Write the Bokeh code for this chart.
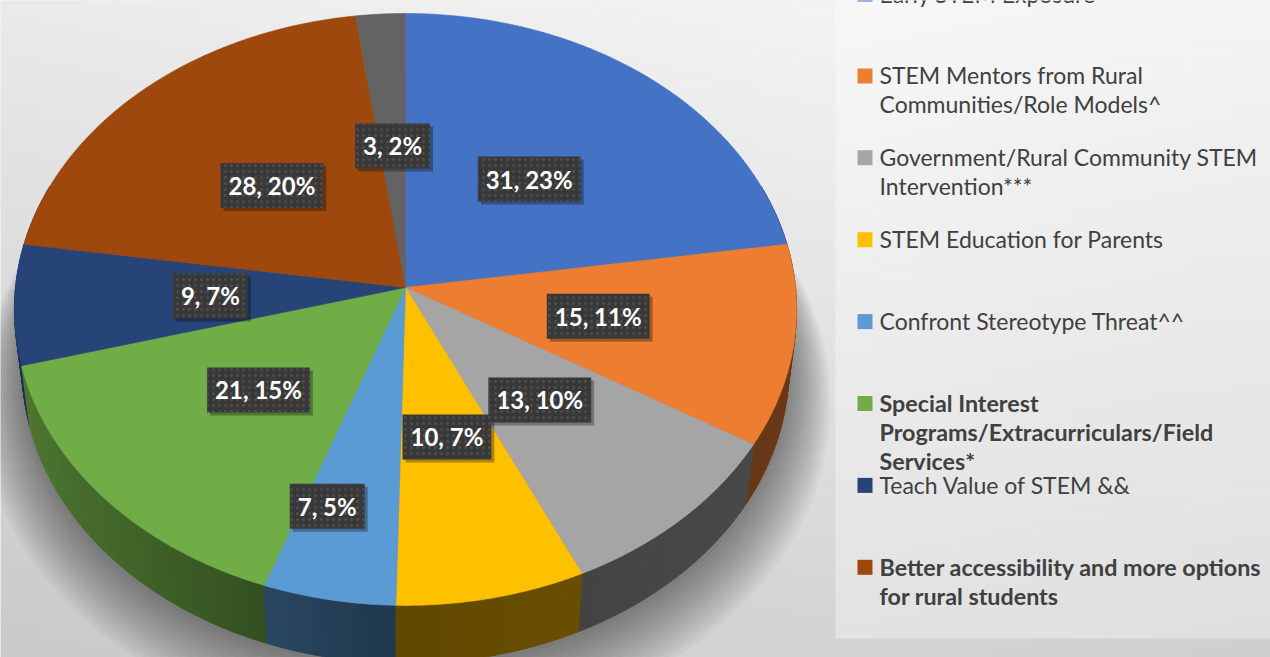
import numpy as np
from bokeh.plotting import figure
from bokeh.models import Range1d
from bokeh.core.properties import value
from bokeh.embed import file_html
from bokeh.resources import INLINE

# ---------------- data ----------------
categories = [
    "Early STEM Exposure",
    "STEM Mentors from Rural Communities/Role Models^",
    "Government/Rural Community  STEM Intervention***",
    "STEM Education for Parents",
    "Confront Stereotype Threat^^",
    "Special Interest Programs/Extracurriculars/Field Services*",
    "Teach Value of STEM &&",
    "Better accessibility and more options for rural students",
    "Other",
]
counts = [31, 15, 13, 10, 7, 21, 9, 28, 3]
percent_labels = ["23%", "11%", "10%", "7%", "5%", "15%", "7%", "20%", "2%"]
colors = ["#4472C4", "#ED7D31", "#A5A5A5", "#FFC000", "#5B9BD5",
          "#70AD47", "#264478", "#9E480E", "#636363"]
legend_bold = [False, False, False, False, False, True, False, True, False]
legend_shown = 8  # last category's legend entry lies below the visible area

# ---------------- layout ----------------
W, H = 1270, 657
CX, CY = 405.0, 287.0        # pie apex on screen
F_OVER_D, DIST = 390.0, 8.85
PHI = np.radians(49.0)
HEIGHT3D = 0.24
FOCAL = F_OVER_D * DIST
label_r = 0.5
label_nudge = {4: (0.75, 0.73)}   # (fraction of slice, radius) for crowded label


def proj(r, th, Y=0.0):
    X = r * np.sin(th)
    Z = r * np.cos(th)
    yc = Y * np.cos(PHI) + Z * np.sin(PHI)
    zc = -Y * np.sin(PHI) + Z * np.cos(PHI) + DIST
    return CX + FOCAL * X / zc, CY - FOCAL * yc / zc


def shade(hexcol, k):
    h = hexcol.lstrip("#")
    r, g, b = (int(h[i:i + 2], 16) for i in (0, 2, 4))
    return "#%02x%02x%02x" % (int(min(255, r * k)), int(min(255, g * k)), int(min(255, b * k)))


total = float(sum(counts))
cum = np.cumsum(counts)
a0 = 2 * np.pi * (cum - np.array(counts)) / total
a1 = 2 * np.pi * cum / total

p = figure(width=W, height=H, x_range=Range1d(0, W), y_range=Range1d(H, 0),
           output_backend="svg", toolbar_location=None, min_border=0,
           x_axis_location=None, y_axis_location=None)
p.grid.visible = False
p.outline_line_color = None
p.background_fill_color = "#e6e6e6"
p.border_fill_color = "#e6e6e6"

# ---- background gradient ----
nx, ny = 32, 66
xe = np.linspace(0, W, nx + 1)
ye = np.linspace(0, H, ny + 1)
L, R, T, B, C = [], [], [], [], []
for j in range(ny):
    for i in range(nx):
        xm = 0.5 * (xe[i] + xe[i + 1])
        ym = 0.5 * (ye[j] + ye[j + 1])
        v = int(round(244 - 0.012 * abs(xm - 850) - 0.05 * ym))
        L.append(xe[i]); R.append(xe[i + 1] + 0.5)
        T.append(ye[j]); B.append(ye[j + 1] + 0.5)
        C.append("#%02x%02x%02x" % (v, v, v))
p.quad(left=L, right=R, top=T, bottom=B, fill_color=C, line_color=None)

# ---- soft shadow ----
ths = np.linspace(0, 2 * np.pi, 361)
for k in range(16):
    sx, sy = proj(1.0 + 0.008 * k, ths, -HEIGHT3D - 0.008 * k)
    p.patch(list(sx), list(sy), fill_color="#000000", fill_alpha=0.033, line_color=None)

# ---- legend panel ----
p.quad(left=835, right=W + 10, top=-20, bottom=638, fill_color="#ffffff", fill_alpha=0.33,
       line_color=None)

# ---- side wall ----
segs = []
for i in range(len(counts)):
    n = max(2, int(np.degrees(a1[i] - a0[i]) / 1.0) + 1)
    t = np.linspace(a0[i], a1[i], n)
    for ta, tb in zip(t[:-1], t[1:]):
        tm = 0.5 * (ta + tb)
        if np.cos(tm) > 0.35:
            continue
        xa, ya = proj(1.0, ta)
        xb, yb = proj(1.0, tb)
        xc, yc = proj(1.0, tb, -HEIGHT3D)
        xd, yd = proj(1.0, ta, -HEIGHT3D)
        s = -np.sin(tm)
        k = 0.38 + 0.32 * np.clip((s - 0.1) / 0.9, 0, 1) + 0.07 * max(0.0, np.sin(tm))
        segs.append((np.cos(tm), [xa, xb, xc, xd], [ya, yb, yc, yd], shade(colors[i], k)))
segs.sort(key=lambda s: -s[0])
p.patches([s[1] for s in segs], [s[2] for s in segs], fill_color=[s[3] for s in segs],
          line_color=[s[3] for s in segs], line_width=0.8)

# ---- top faces ----
xs, ys = [], []
for i in range(len(counts)):
    n = max(3, int(np.degrees(a1[i] - a0[i]) / 0.5) + 1)
    t = np.linspace(a0[i], a1[i], n)
    px, py = proj(1.0, t)
    xs.append([CX] + list(px))
    ys.append([CY] + list(py))
p.patches(xs, ys, fill_color=colors, line_color=colors, line_width=0.6)

# ---- data labels ----
lx, ly, lt = [], [], []
for i in range(len(counts)):
    frac, rr = label_nudge.get(i, (0.5, label_r))
    th = a0[i] + frac * (a1[i] - a0[i])
    x, y = proj(rr, th)
    lx.append(x); ly.append(y)
    lt.append("%d, %s" % (counts[i], percent_labels[i]))

p.text(x=lx, y=ly, text=lt, x_offset=3, y_offset=3, text_align="center",
       text_baseline="middle", text_font=value("Lato"), text_font_style="bold",
       text_font_size="24px", text_alpha=0.0, padding=8,
       background_fill_color="#000000", background_fill_alpha=0.3)
p.text(x=lx, y=ly, text=lt, text_align="center", text_baseline="middle",
       text_font=value("Lato"), text_font_style="bold", text_font_size="24px",
       text_color="#ffffff", padding=8,
       background_fill_color="#383838", background_hatch_pattern="dot",
       background_hatch_color="#4e4e4e", background_hatch_scale=6,
       background_hatch_weight=1)

# ---- legend ----
LEG_X_SQ, LEG_X_TXT = 864.5, 879
LEG_Y0, LEG_STEP, LINE_STEP = -7.0, 81.9, 29.0
WRAP = 37


def wrap(s, width):
    words = s.split(" ")
    lines, cur = [], None
    for w in words:
        if cur is None:
            cur = w
        elif len(cur) + 1 + len(w) <= width:
            cur = cur + " " + w
        else:
            lines.append(cur)
            cur = w
    lines.append(cur)
    return lines


sq_x, sq_y, sq_c = [], [], []
tx_n, ty_n, tt_n, tx_b, ty_b, tt_b = [], [], [], [], [], []
for i in range(legend_shown):
    yy = LEG_Y0 + i * LEG_STEP
    sq_x.append(LEG_X_SQ); sq_y.append(yy + 0.5); sq_c.append(colors[i])
    for j, line in enumerate(wrap(categories[i], WRAP)):
        if legend_bold[i]:
            tx_b.append(LEG_X_TXT); ty_b.append(yy + j * LINE_STEP); tt_b.append(line)
        else:
            tx_n.append(LEG_X_TXT); ty_n.append(yy + j * LINE_STEP); tt_n.append(line)
p.rect(x=sq_x, y=sq_y, width=15, height=15, fill_color=sq_c, line_color=None)
p.text(x=tx_n, y=ty_n, text=tt_n, text_align="left", text_baseline="middle",
       text_font=value("Lato"), text_font_size="23px", text_color="#404040")
p.text(x=tx_b, y=ty_b, text=tt_b, text_align="left", text_baseline="middle",
       text_font=value("Lato"), text_font_style="bold", text_font_size="23.3px",
       text_color="#404040")

open("out.html", "w").write(file_html(p, INLINE))
